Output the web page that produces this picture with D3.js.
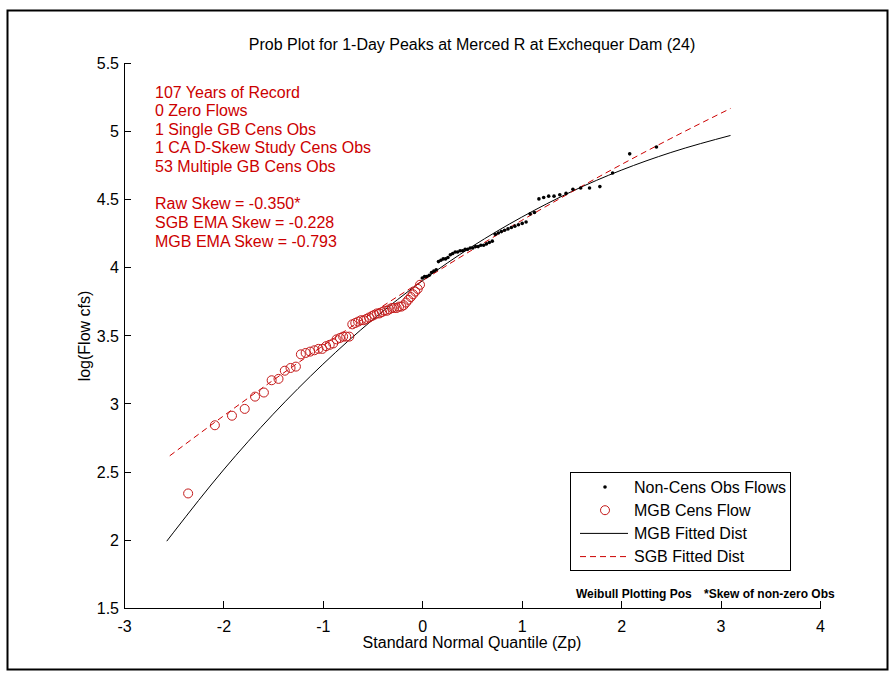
<!DOCTYPE html>
<html>
<head>
<meta charset="utf-8">
<script src="https://cdn.jsdelivr.net/npm/d3@7"></script>
<style>
  html, body { margin: 0; padding: 0; background: #fff; }
  svg text { font-family: "Liberation Sans", Arial, sans-serif; }
</style>
</head>
<body>
<div id="chart"></div>
<script>
// axis ticks
const xTicks = [-3, -2, -1, 0, 1, 2, 3, 4];
const yTicks = [1.5, 2, 2.5, 3, 3.5, 4, 4.5, 5, 5.5];

// MGB censored flows (red circles), Weibull plotting positions
const censZ = [-2.355, -2.086, -1.914, -1.786, -1.682, -1.593, -1.515, -1.446, -1.383, -1.325,
  -1.271, -1.221, -1.173, -1.128, -1.085, -1.044, -1.005, -0.967, -0.931, -0.896,
  -0.862, -0.828, -0.796, -0.765, -0.734, -0.704, -0.674, -0.645, -0.617, -0.589,
  -0.562, -0.535, -0.508, -0.482, -0.456, -0.431, -0.405, -0.380, -0.355, -0.331,
  -0.306, -0.282, -0.258, -0.234, -0.210, -0.187, -0.163, -0.140, -0.116, -0.093,
  -0.070, -0.046, -0.023];
const censFlow = [2.34, 2.84, 2.91, 2.96, 3.05, 3.08, 3.17, 3.18, 3.24, 3.26,
  3.27, 3.36, 3.37, 3.38, 3.39, 3.40, 3.40, 3.42, 3.43, 3.44,
  3.47, 3.48, 3.49, 3.49, 3.49, 3.58, 3.59, 3.60, 3.61, 3.61,
  3.62, 3.63, 3.64, 3.65, 3.66, 3.66, 3.67, 3.68, 3.68, 3.69,
  3.70, 3.70, 3.70, 3.71, 3.71, 3.72, 3.74, 3.76, 3.78, 3.80,
  3.82, 3.84, 3.87];

// non-censored observed flows (black dots)
const obsZ = [0.000, 0.023, 0.046, 0.070, 0.093, 0.116, 0.140, 0.163, 0.187, 0.210,
  0.234, 0.258, 0.282, 0.306, 0.331, 0.355, 0.380, 0.405, 0.431, 0.456,
  0.482, 0.508, 0.535, 0.562, 0.589, 0.617, 0.645, 0.674, 0.704, 0.734,
  0.765, 0.796, 0.828, 0.862, 0.896, 0.931, 0.967, 1.005, 1.044, 1.085,
  1.128, 1.173, 1.221, 1.271, 1.325, 1.383, 1.446, 1.515, 1.593, 1.682,
  1.786, 1.914, 2.086, 2.355];
const obsFlow = [3.92, 3.93, 3.93, 3.94, 3.96, 3.97, 3.98, 4.04, 4.05, 4.06,
  4.06, 4.07, 4.09, 4.10, 4.11, 4.11, 4.12, 4.12, 4.13, 4.13,
  4.14, 4.14, 4.15, 4.15, 4.16, 4.16, 4.17, 4.18, 4.19, 4.24,
  4.25, 4.26, 4.27, 4.28, 4.29, 4.30, 4.31, 4.32, 4.33, 4.39,
  4.40, 4.50, 4.51, 4.52, 4.52, 4.53, 4.54, 4.57, 4.58, 4.58,
  4.59, 4.69, 4.83, 4.88];

// fitted distributions
const mgbZ = [-2.57, -2.5, -2, -1.5, -1, -0.5, 0, 0.5, 1, 1.5, 2, 2.5, 3.1];
const mgbFit = [1.99, 2.056, 2.512, 2.921, 3.287, 3.613, 3.899, 4.150, 4.366, 4.553, 4.710, 4.840, 4.965];
const sgbZ = [-2.54, -2, -1.5, -1, -0.5, 0, 0.5, 1, 1.5, 2, 2.5, 3.1];
const sgbFit = [2.616, 2.908, 3.170, 3.422, 3.665, 3.899, 4.125, 4.342, 4.550, 4.751, 4.943, 5.163];

const infoLines = ["107 Years of Record", "0 Zero Flows", "1 Single GB Cens Obs",
  "1 CA D-Skew Study Cens Obs", "53 Multiple GB Cens Obs", "",
  "Raw Skew = -0.350*", "SGB EMA Skew = -0.228", "MGB EMA Skew = -0.793"];
const legendLabels = ["Non-Cens Obs Flows", "MGB Cens Flow", "MGB Fitted Dist", "SGB Fitted Dist"];

const W = 895, H = 677;
const red = "#cc0000";

const svg = d3.select("#chart").append("svg")
    .attr("width", W)
    .attr("height", H);

// figure frame
svg.append("rect")
    .attr("x", 7.5).attr("y", 10.5)
    .attr("width", 880).attr("height", 659)
    .attr("fill", "none")
    .attr("stroke", "#000")
    .attr("stroke-width", 2);

const x = d3.scaleLinear().domain([-3, 4]).range([124, 820]);
const y = d3.scaleLinear().domain([1.5, 5.5]).range([608, 62.5]);

// axes, ticks pointing inward like matlab, plain hyphen minus
const fmt = d => String(d);
const xAxis = svg.append("g")
    .attr("transform", `translate(0,${y(1.5)})`)
    .call(d3.axisBottom(x).tickValues(xTicks).tickFormat(fmt).tickSize(-7).tickSizeOuter(0));
const yAxis = svg.append("g")
    .attr("transform", `translate(${x(-3)},0)`)
    .call(d3.axisLeft(y).tickValues(yTicks).tickFormat(fmt).tickSize(-7).tickSizeOuter(0));

[xAxis, yAxis].forEach(g => {
    g.selectAll("path, line").attr("stroke", "#000").attr("shape-rendering", "crispEdges");
    g.selectAll("text")
        .attr("fill", "#000")
        .style("font-size", "16px");
});
yAxis.selectAll("text").attr("x", -5).attr("dy", "0.36em");
xAxis.selectAll("text").attr("y", 13).attr("dy", "0.71em");

// title and axis labels
svg.append("text")
    .attr("x", 472).attr("y", 50)
    .attr("text-anchor", "middle")
    .style("font-size", "16px")
    .text("Prob Plot for 1-Day Peaks at Merced R at Exchequer Dam (24)");

svg.append("text")
    .attr("x", 472).attr("y", 648)
    .attr("text-anchor", "middle")
    .style("font-size", "16px")
    .text("Standard Normal Quantile (Zp)");

svg.append("text")
    .attr("transform", "translate(90,336) rotate(-90)")
    .attr("text-anchor", "middle")
    .style("font-size", "16px")
    .text("log(Flow cfs)");

// fitted lines
const line = d3.line()
    .x(d => x(d[0]))
    .y(d => y(d[1]))
    .curve(d3.curveMonotoneX);

svg.append("path")
    .datum(mgbZ.map((z, i) => [z, mgbFit[i]]))
    .attr("d", line)
    .attr("fill", "none")
    .attr("stroke", "#000")
    .attr("stroke-width", 1);

svg.append("path")
    .datum(sgbZ.map((z, i) => [z, sgbFit[i]]))
    .attr("d", line)
    .attr("fill", "none")
    .attr("stroke", red)
    .attr("stroke-width", 1)
    .attr("stroke-dasharray", "6,4");

// censored flows
svg.append("g")
    .selectAll("circle")
    .data(censZ.map((z, i) => [z, censFlow[i]]))
    .enter()
    .append("circle")
    .attr("cx", d => x(d[0]))
    .attr("cy", d => y(d[1]))
    .attr("r", 4.5)
    .attr("fill", "none")
    .attr("stroke", "#c41a1a")
    .attr("stroke-width", 1);

// observed flows
svg.append("g")
    .selectAll("circle")
    .data(obsZ.map((z, i) => [z, obsFlow[i]]))
    .enter()
    .append("circle")
    .attr("cx", d => x(d[0]))
    .attr("cy", d => y(d[1]))
    .attr("r", 1.8)
    .attr("fill", "#000");

// record info text
svg.append("g")
    .selectAll("text")
    .data(infoLines)
    .enter()
    .append("text")
    .attr("x", 155)
    .attr("y", (d, i) => 97.5 + i * 18.65)
    .attr("fill", red)
    .style("font-size", "16px")
    .text(d => d);

// legend
const lg = svg.append("g");
lg.append("rect")
    .attr("x", 570.5).attr("y", 472.5)
    .attr("width", 220).attr("height", 98)
    .attr("fill", "#fff")
    .attr("stroke", "#000")
    .attr("stroke-width", 1);

const rowY = i => 487 + i * 23.2;
lg.selectAll("text")
    .data(legendLabels)
    .enter()
    .append("text")
    .attr("x", 634)
    .attr("y", (d, i) => rowY(i))
    .attr("dy", "0.36em")
    .style("font-size", "16px")
    .text(d => d);

lg.append("circle").attr("cx", 605).attr("cy", rowY(0)).attr("r", 1.8).attr("fill", "#000");
lg.append("circle").attr("cx", 605).attr("cy", rowY(1)).attr("r", 4.5)
    .attr("fill", "none").attr("stroke", "#c41a1a");
lg.append("line").attr("x1", 580).attr("x2", 628).attr("y1", rowY(2)).attr("y2", rowY(2))
    .attr("stroke", "#000");
lg.append("line").attr("x1", 580).attr("x2", 628).attr("y1", rowY(3)).attr("y2", rowY(3))
    .attr("stroke", red).attr("stroke-dasharray", "6,4");

// footnotes
svg.append("text")
    .attr("x", 576).attr("y", 598)
    .style("font-size", "12px").style("font-weight", "bold")
    .text("Weibull Plotting Pos");
svg.append("text")
    .attr("x", 704).attr("y", 598)
    .style("font-size", "12px").style("font-weight", "bold")
    .text("*Skew of non-zero Obs");
</script>
</body>
</html>
